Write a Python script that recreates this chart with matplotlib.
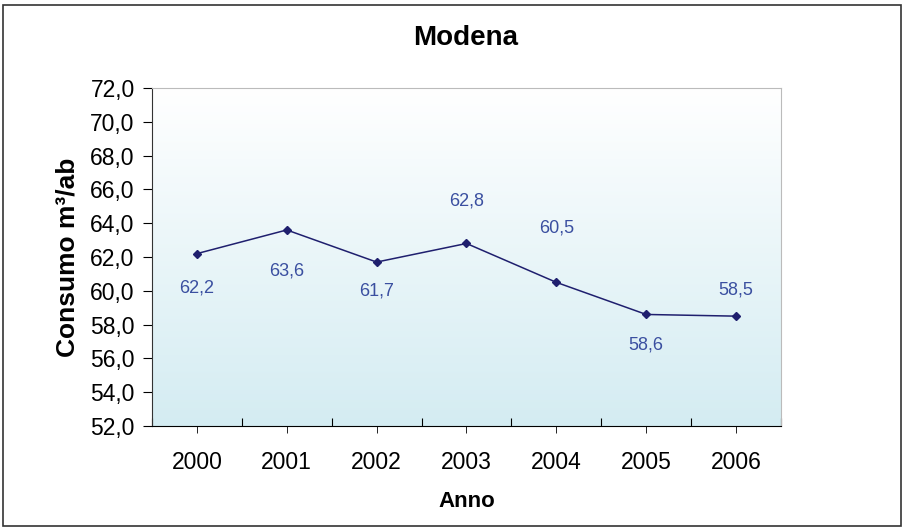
import numpy as np
import matplotlib
matplotlib.use("Agg")
import matplotlib.pyplot as plt
from matplotlib.colors import LinearSegmentedColormap
from matplotlib.ticker import FixedLocator, FuncFormatter

# data
anni = ["2000", "2001", "2002", "2003", "2004", "2005", "2006"]
consumo = [62.2, 63.6, 61.7, 62.8, 60.5, 58.6, 58.5]
etichette = ["62,2", "63,6", "61,7", "62,8", "60,5", "58,6", "58,5"]

# label offsets in pixels (positive = below point), as in the original
label_dy = [34, 41, 29, -42, -54, 31, -26]

plt.rcParams['font.family'] = ['Liberation Sans', 'DejaVu Sans']

fig = plt.figure(figsize=(9.03, 5.27), dpi=100)
fig.patch.set_facecolor("white")
# outer border
fig.add_artist(plt.Rectangle((3 / 903, 0.002), 898 / 903, 1 - 5 / 527 - 0.002,
                             transform=fig.transFigure, fill=False,
                             edgecolor="#333333", linewidth=1.2))

ax = fig.add_axes([152 / 903, 1 - 426 / 527, 629 / 903, 338 / 527])
x = np.arange(len(anni))

# gradient background, white at top -> light blue at bottom
cmap = LinearSegmentedColormap.from_list("bg", ["#D4ECF2", "#FFFFFF"])
grad = np.linspace(0, 1, 256).reshape(-1, 1)
ax.imshow(grad, aspect="auto", cmap=cmap, origin="lower",
          extent=(-0.5, 6.5, 52, 72), zorder=0)

ax.plot(x, consumo, color="#1F1F6E", linewidth=1.1, marker="D",
        markersize=4, zorder=3)

for xi, yi, lab, dy in zip(x, consumo, etichette, label_dy):
    ax.annotate(lab, (xi, yi), xytext=(0, -dy * 0.72), textcoords="offset points",
                ha="center", va="center", fontsize=13, color="#3A4FA0")

ax.set_xlim(-0.5, 6.5)
ax.set_ylim(52, 72)
ax.set_yticks(np.arange(52, 73, 2))
ax.yaxis.set_major_formatter(FuncFormatter(lambda v, p: f"{v:.1f}".replace(".", ",")))

# x: boundary ticks inward, centre ticks outward with labels
ax.xaxis.set_major_locator(FixedLocator(np.arange(-0.5, 7, 1)))
ax.xaxis.set_minor_locator(FixedLocator(x))
ax.xaxis.set_major_formatter(FuncFormatter(lambda v, p: ""))
ax.xaxis.set_minor_formatter(FuncFormatter(lambda v, p: anni[int(round(v))]))
ax.tick_params(axis="x", which="major", direction="in", length=6, color="black")
ax.tick_params(axis="x", which="minor", direction="out", length=5, color="black",
               labelsize=16.5, pad=13)
ax.tick_params(axis="y", direction="out", length=6.5, labelsize=16.5, pad=6)

for s in ["top", "right"]:
    ax.spines[s].set_color("#BBBBBB")
ax.spines["left"].set_color("#333333")
ax.spines["bottom"].set_color("black")

ax.set_xlabel("Anno", fontsize=16, fontweight="bold", labelpad=12)
ax.set_ylabel("Consumo m³/ab", fontsize=19, fontweight="bold", labelpad=8)
fig.text(466 / 903, 1 - 38 / 527, "Modena", ha="center", va="center",
         fontsize=20, fontweight="bold")

fig.savefig("out.png", dpi=100)
